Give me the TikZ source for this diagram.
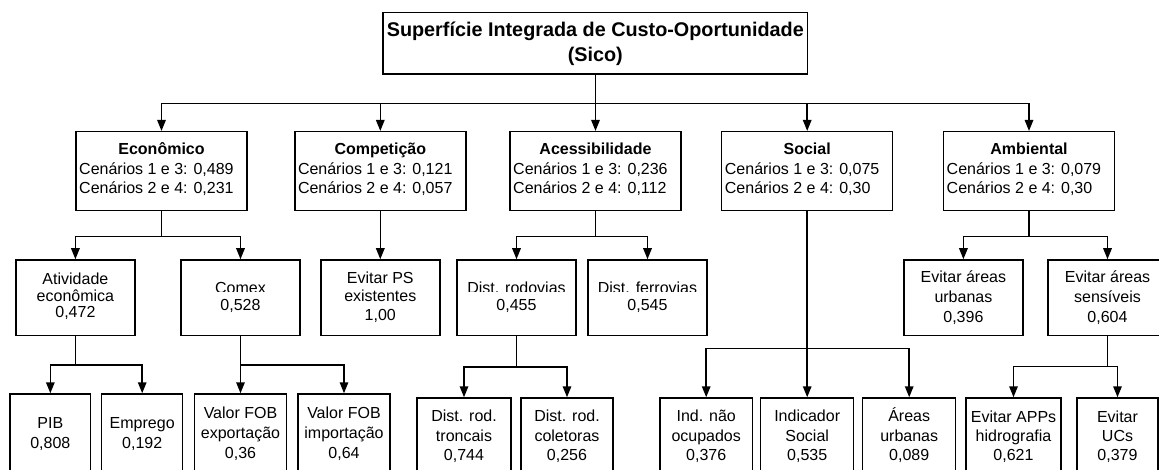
\documentclass[tikz,border=0pt]{standalone}
\usepackage{fontspec}
\setmainfont{Liberation Sans}
\usetikzlibrary{arrows.meta}
\newlength\SLh
\newlength\SLd
\newcommand{\SL}[1]{\rule[-\SLd]{0pt}{\dimexpr\SLh+\SLd\relax}\smash{#1}}
\tikzset{
  bx/.style={draw=black, line width=1.5pt, inner sep=0pt, fill=white},
  lvone/.style={bx, minimum width=171pt, minimum height=79pt},
  lvtwo/.style={bx, minimum width=119pt, minimum height=75.7pt, align=center},
  lvthree/.style={bx, align=center},
  sl/.style n args={3}{font={\fontsize{16pt}{#1pt}\selectfont},
     execute at begin node={\setlength\SLh{#2pt}\setlength\SLd{#3pt}\lineskiplimit=-20pt}},
  arr/.style={line width=1.5pt, -{Triangle[width=8.5pt,length=11pt]}},
  ln/.style={line width=1.5pt},
  tx/.style={inner sep=0pt, font={\fontsize{16pt}{19pt}\selectfont}},
  hd/.style={inner sep=0pt, anchor=base, font={\fontsize{16pt}{19pt}\selectfont\bfseries}},
  ttl/.style={inner sep=0pt, anchor=base, font={\fontsize{19.8pt}{24pt}\selectfont\bfseries}},
}
\begin{document}
\begin{tikzpicture}[x=1pt,y=-1pt]
\useasboundingbox (0,0) rectangle (1159,470);
\fill[white] (0,0) rectangle (1159,470);
\clip (0,0) rectangle (1159,470);

% title
\node[bx, minimum width=424.3pt, minimum height=61.3pt] (title) at (595.3,43.35) {};
\node[ttl] (titlea) at (595.3,37) {Superfície Integrada de Custo-Oportunidade};
\node[ttl] (titleb) at (595.3,62) {(Sico)};

% level 1
\node[lvone] (econ) at (161.5,171.2) {};
\node[lvone] (comp) at (380.3,171.2) {};
\node[lvone] (acess) at (595.5,171.2) {};
\node[lvone] (social) at (807.2,171.2) {};
\node[lvone] (amb) at (1029,171.2) {};

\node[hd] (econh) at (161.5,155) {Econômico};
\node[tx, anchor=base west] (econa) at (79,175) {Cenários 1 e 3: 0,489};
\node[tx, anchor=base west] (econb) at (79,194) {Cenários 2 e 4: 0,231};

\node[hd] (comph) at (380.3,155) {Competição};
\node[tx, anchor=base west] (compa) at (297.8,175) {Cenários 1 e 3: 0,121};
\node[tx, anchor=base west] (compb) at (297.8,194) {Cenários 2 e 4: 0,057};

\node[hd] (acessh) at (595.5,155) {Acessibilidade};
\node[tx, anchor=base west] (acessa) at (513,175) {Cenários 1 e 3: 0,236};
\node[tx, anchor=base west] (acessb) at (513,194) {Cenários 2 e 4: 0,112};

\node[hd] (socialh) at (807.2,155) {Social};
\node[tx, anchor=base west] (sociala) at (724.7,175) {Cenários 1 e 3: 0,075};
\node[tx, anchor=base west] (socialb) at (724.7,194) {Cenários 2 e 4: 0,30};

\node[hd] (ambh) at (1029,155) {Ambiental};
\node[tx, anchor=base west] (amba) at (946.5,175) {Cenários 1 e 3: 0,079};
\node[tx, anchor=base west] (ambb) at (946.5,194) {Cenários 2 e 4: 0,30};

% level 2
\node[lvtwo, sl={16.5}{11.6}{4.9}] (ativ) at (75.4,297.85) {\SL{Atividade}\\\SL{econômica}\\\SL{0,472}};
\node[lvtwo] (comex) at (240.5,297.85) {};
\node[lvtwo, sl={18.6}{13.45}{5.15}] (evps) at (380.3,297.85) {\SL{Evitar PS}\\\SL{existentes}\\\SL{1,00}};
\node[lvtwo] (rodo) at (516.5,297.85) {};
\node[lvtwo] (ferro) at (647.5,297.85) {};
\node[lvtwo, sl={20}{14.85}{5.15}] (evurb) at (963.4,297.85) {\SL{Evitar áreas}\\\SL{urbanas}\\\SL{0,396}};
\node[lvtwo, sl={20}{14.85}{5.15}] (evsens) at (1107.5,297.85) {\SL{Evitar áreas}\\\SL{sensíveis}\\\SL{0,604}};

\begin{scope}
\clip (comex.north west) rectangle (comex.east |- 0,291.6);
\node[tx, anchor=base] (comexa) at (240.5,293.2) {Comex};
\end{scope}
\node[tx, anchor=base] (comexb) at (240.5,311) {0,528};
\begin{scope}
\clip (rodo.north west) rectangle (rodo.east |- 0,291.6);
\node[tx, anchor=base] (rodoa) at (516.5,293.2) {Dist. rodovias};
\end{scope}
\node[tx, anchor=base] (rodob) at (516.5,311) {0,455};
\begin{scope}
\clip (ferro.north west) rectangle (ferro.east |- 0,291.6);
\node[tx, anchor=base] (ferroa) at (647.5,293.2) {Dist. ferrovias};
\end{scope}
\node[tx, anchor=base] (ferrob) at (647.5,311) {0,545};

% level 3
\node[lvthree, minimum width=80.7pt, minimum height=78pt, sl={19.6}{15}{4.6}] (pib) at (50.35,433) {\SL{PIB}\\\SL{0,808}};
\node[lvthree, minimum width=81pt, minimum height=78pt, sl={19.6}{15}{4.6}] (empr) at (142.2,433) {\SL{Emprego}\\\SL{0,192}};
\node[lvthree, minimum width=92pt, minimum height=78pt, sl={20}{15.4}{4.6}] (fobx) at (240.5,433) {\SL{Valor FOB}\\\SL{exportação}\\\SL{0,36}};
\node[lvthree, minimum width=92pt, minimum height=78pt, sl={20}{15.4}{4.6}] (fobi) at (344,433) {\SL{Valor FOB}\\\SL{importação}\\\SL{0,64}};
\node[lvthree, minimum width=93.7pt, minimum height=74pt, sl={19.5}{15.95}{3.55}] (tronc) at (464,435) {\SL{Dist. rod.}\\\SL{troncais}\\\SL{0,744}};
\node[lvthree, minimum width=92pt, minimum height=74pt, sl={19.5}{15.95}{3.55}] (colet) at (567,435) {\SL{Dist. rod.}\\\SL{coletoras}\\\SL{0,256}};
\node[lvthree, minimum width=92.3pt, minimum height=74pt, sl={19.5}{15.95}{3.55}] (ind) at (706.2,435) {\SL{Ind. não}\\\SL{ocupados}\\\SL{0,376}};
\node[lvthree, minimum width=93pt, minimum height=74pt, sl={19.5}{15.95}{3.55}] (indsoc) at (807.2,435) {\SL{Indicador}\\\SL{Social}\\\SL{0,535}};
\node[lvthree, minimum width=93pt, minimum height=74pt, sl={19.5}{15.95}{3.55}] (areas) at (909.2,435) {\SL{Áreas}\\\SL{urbanas}\\\SL{0,089}};
\node[lvthree, minimum width=95pt, minimum height=74pt, sl={19}{16.2}{2.8}] (apps) at (1013.5,435) {\SL{Evitar APPs}\\\SL{hidrografia}\\\SL{0,621}};
\node[lvthree, minimum width=81pt, minimum height=74pt, sl={19}{16.2}{2.8}] (ucs) at (1117.5,435) {\SL{Evitar}\\\SL{UCs}\\\SL{0,379}};

% connectors level 0 -> 1
\coordinate (j0) at (title.south |- 0,103.3);
\draw[ln] (title.south) -- (j0);
\foreach \c in {econ,comp,acess,social,amb} \draw[arr] (j0) -| (\c.north);

% level 1 -> 2
\coordinate (j1) at (econ.south |- 0,236.7);
\draw[ln] (econ.south) -- (j1);
\draw[arr] (j1) -| (ativ.north);
\draw[arr] (j1) -| (comex.north);
\draw[arr] (comp.south) -- (evps.north);
\coordinate (j2) at (acess.south |- 0,236.7);
\draw[ln] (acess.south) -- (j2);
\draw[arr] (j2) -| (rodo.north);
\draw[arr] (j2) -| (ferro.north);
\coordinate (j4) at (amb.south |- 0,236.7);
\draw[ln] (amb.south) -- (j4);
\draw[arr] (j4) -| (evurb.north);
\draw[arr] (j4) -| (evsens.north);

% social -> level 3
\coordinate (j3) at (social.south |- 0,348.3);
\draw[arr] (social.south) -- (indsoc.north);
\draw[arr] (j3) -| (ind.north);
\draw[arr] (j3) -| (areas.north);

% level 2 -> 3
\coordinate (j5) at (ativ.south |- 0,365);
\draw[ln] (ativ.south) -- (j5);
\draw[arr] (j5) -| (pib.north);
\draw[arr] (j5) -| (empr.north);
\coordinate (j6) at (comex.south |- 0,365);
\draw[ln] (comex.south) -- (j6);
\draw[arr] (j6) -| (fobx.north);
\draw[arr] (j6) -| (fobi.north);
\coordinate (j7) at (rodo.south |- 0,367);
\draw[ln] (rodo.south) -- (j7);
\draw[arr] (j7) -| (tronc.north);
\draw[arr] (j7) -| (colet.north);
\coordinate (j8) at (evsens.south |- 0,366.7);
\draw[ln] (evsens.south) -- (j8);
\draw[arr] (j8) -| (apps.north);
\draw[arr] (j8) -| (ucs.north);
\end{tikzpicture}
\end{document}
